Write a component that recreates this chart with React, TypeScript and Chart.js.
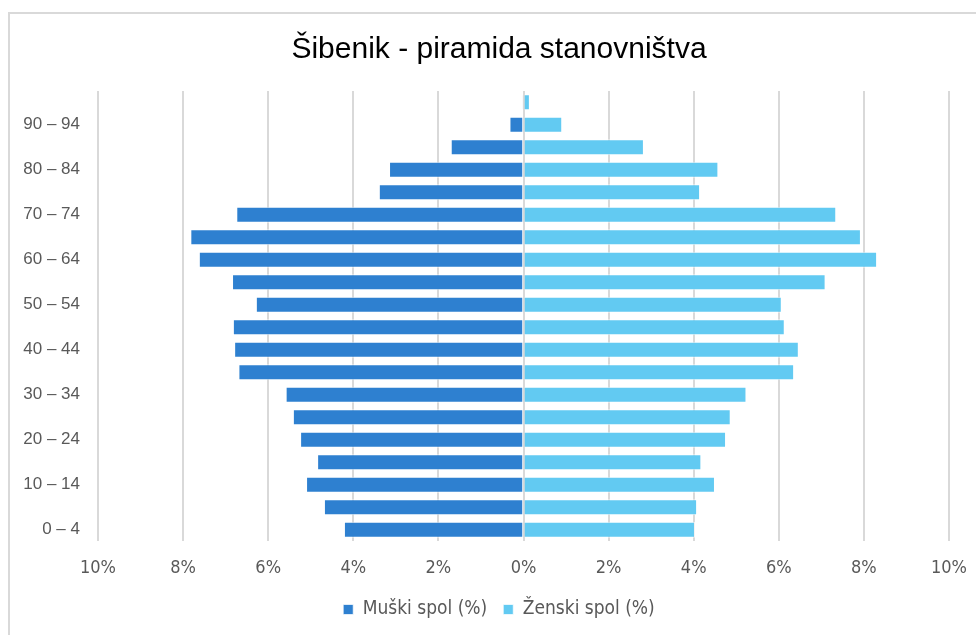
import React, { useEffect, useRef } from "react";
import { Chart, registerables } from "chart.js";

Chart.register(...registerables);

const ageGroups = [
  "0 – 4", "5 – 9", "10 – 14", "15 – 19", "20 – 24", "25 – 29", "30 – 34", "35 – 39",
  "40 – 44", "45 – 49", "50 – 54", "55 – 59", "60 – 64", "65 – 69", "70 – 74", "75 – 79",
  "80 – 84", "85 – 89", "90 – 94", "95+",
];

const maleValues = [
  4.22, 4.69, 5.11, 4.85, 5.25, 5.42, 5.59, 6.70, 6.80, 6.83,
  6.29, 6.85, 7.63, 7.83, 6.75, 3.40, 3.16, 1.71, 0.33, 0.03,
];

const femaleValues = [
  4.03, 4.08, 4.50, 4.18, 4.76, 4.87, 5.24, 6.36, 6.47, 6.14,
  6.07, 7.10, 8.31, 7.93, 7.35, 4.15, 4.58, 2.83, 0.91, 0.15,
];

const xTicks = [-10, -8, -6, -4, -2, 0, 2, 4, 6, 8, 10];

const seriesNames = ["Muški spol (%)", "Ženski spol (%)"];
const titleText = "Šibenik - piramida stanovništva";

const narrow = "'Liberation Sans Narrow', 'DejaVu Sans Condensed', 'Liberation Sans', sans-serif";
const sans = "'Liberation Sans', Arial, sans-serif";

export default function App() {
  const ref = useRef<HTMLCanvasElement | null>(null);

  useEffect(() => {
    document.body.style.margin = "0";
    document.body.style.overflow = "hidden";
    const canvas = ref.current;
    if (!canvas) return;
    const chart = new Chart(canvas, {
      type: "bar",
      data: {
        labels: ageGroups,
        datasets: [
          {
            label: seriesNames[0],
            data: maleValues.map((v) => -v),
            backgroundColor: "#2E80D0",
            borderColor: "rgba(255,255,255,0.7)",
            borderWidth: 1,
            barPercentage: 0.72,
            categoryPercentage: 1,
          },
          {
            label: seriesNames[1],
            data: femaleValues,
            backgroundColor: "#62CAF2",
            borderColor: "rgba(255,255,255,0.7)",
            borderWidth: 1,
            barPercentage: 0.72,
            categoryPercentage: 1,
          },
        ],
      },
      options: {
        indexAxis: "y",
        animation: false,
        responsive: false,
        maintainAspectRatio: false,
        layout: { padding: { left: 0, right: 0, top: 0, bottom: 6 } },
        scales: {
          x: {
            stacked: true,
            min: -10,
            max: 10,
            afterBuildTicks: (axis: any) => {
              axis.ticks = xTicks.map((v) => ({ value: v }));
            },
            afterFit: (axis: any) => {
              axis.height = 43;
              axis.paddingLeft = 0;
              axis.paddingRight = 39;
            },
            grid: {
              color: "#d9d9d9",
              lineWidth: 2,
              drawTicks: false,
            },
            border: { display: false },
            ticks: {
              padding: 17,
              color: "#595959",
              font: { family: narrow, size: 18 },
              callback: (v: any) => Math.abs(Number(v)) + "%",
            },
          },
          y: {
            stacked: true,
            reverse: true,
            afterFit: (axis: any) => {
              axis.width = 88;
              axis.paddingTop = 0;
              axis.paddingBottom = 0;
            },
            grid: { display: false },
            border: { display: false },
            ticks: {
              autoSkip: false,
              padding: 10,
              color: "#595959",
              font: { family: sans, size: 17 },
              callback: (_v: any, i: number) => (i % 2 === 0 ? ageGroups[i] : ""),
            },
          },
        },
        plugins: {
          title: {
            display: true,
            text: titleText,
            color: "#000000",
            font: { family: sans, size: 30, weight: "normal" },
            padding: { top: 18, bottom: 23 },
          },
          legend: {
            position: "bottom",
            labels: {
              boxWidth: 10,
              boxHeight: 10,
              padding: 16,
              color: "#595959",
              font: { family: narrow, size: 19 },
            },
          },
          tooltip: { enabled: false },
        },
      },
    });
    return () => chart.destroy();
  }, []);

  return (
    <div
      style={{
        position: "absolute",
        left: 8,
        top: 12,
        width: 982,
        height: 625,
        borderTop: "2px solid #d9d9d9",
        borderLeft: "2px solid #d9d9d9",
        background: "#fff",
      }}
    >
      <canvas ref={ref} width={978} height={621} style={{ display: "block" }} />
    </div>
  );
}
